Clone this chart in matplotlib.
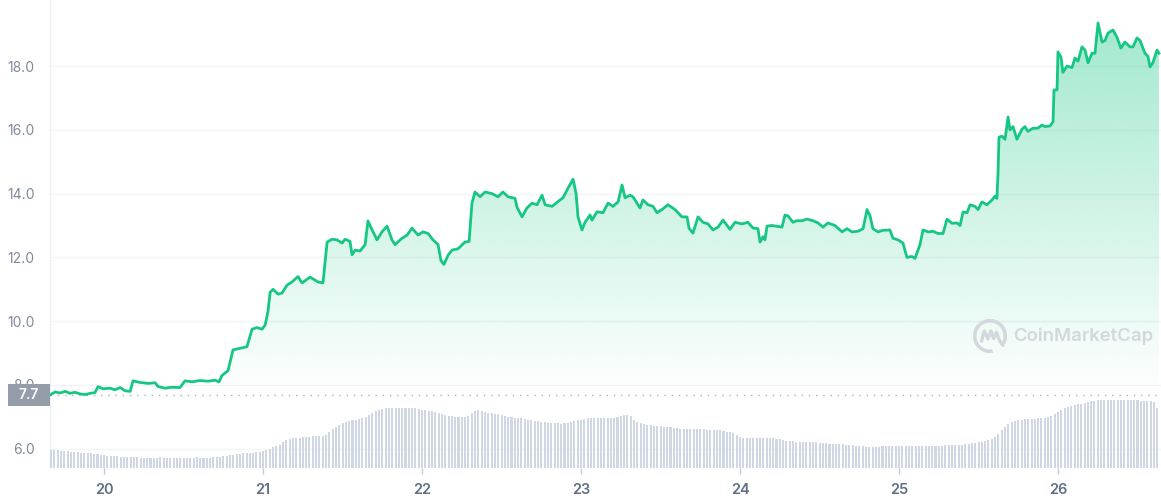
import numpy as np
import matplotlib
matplotlib.use('Agg')
import matplotlib.pyplot as plt
from matplotlib.patches import Rectangle, Arc
from matplotlib.transforms import blended_transform_factory
from matplotlib.colors import to_rgb

# ---------------- data ----------------
times = [
19.660, 19.692, 19.723, 19.755, 19.786, 19.818, 19.849, 19.881, 19.912, 19.943,
19.962, 19.994, 20.038, 20.069, 20.101, 20.132, 20.164, 20.182, 20.226, 20.277,
20.321, 20.340, 20.384, 20.428, 20.478, 20.509, 20.553, 20.604, 20.654, 20.698,
20.723, 20.742, 20.780, 20.811, 20.855, 20.899, 20.931, 20.962, 20.994, 21.013,
21.031, 21.044, 21.063, 21.094, 21.119, 21.151, 21.182, 21.220, 21.245, 21.296,
21.346, 21.377, 21.403, 21.434, 21.465, 21.497, 21.516, 21.547, 21.560, 21.579,
21.610, 21.642, 21.660, 21.686, 21.717, 21.748, 21.780, 21.811, 21.830, 21.874,
21.906, 21.937, 21.975, 22.006, 22.038, 22.069, 22.101, 22.119, 22.138, 22.164,
22.189, 22.226, 22.270, 22.296, 22.314, 22.333, 22.365, 22.396, 22.440, 22.478,
22.509, 22.541, 22.585, 22.597, 22.629, 22.660, 22.692, 22.723, 22.755, 22.774,
22.818, 22.855, 22.887, 22.918, 22.950, 22.969, 22.981, 23.006, 23.025, 23.057,
23.069, 23.101, 23.138, 23.170, 23.201, 23.233, 23.258, 23.277, 23.308, 23.327,
23.371, 23.390, 23.421, 23.453, 23.478, 23.509, 23.547, 23.591, 23.635, 23.667,
23.679, 23.704, 23.736, 23.767, 23.799, 23.830, 23.862, 23.893, 23.937, 23.969,
24.013, 24.050, 24.082, 24.113, 24.126, 24.145, 24.157, 24.170, 24.201, 24.239,
24.264, 24.283, 24.302, 24.333, 24.358, 24.390, 24.421, 24.459, 24.491, 24.522,
24.553, 24.597, 24.642, 24.673, 24.704, 24.742, 24.774, 24.799, 24.818, 24.836,
24.868, 24.899, 24.943, 24.962, 24.994, 25.025, 25.050, 25.082, 25.101, 25.132,
25.151, 25.182, 25.214, 25.245, 25.277, 25.302, 25.333, 25.365, 25.384, 25.403,
25.428, 25.447, 25.478, 25.497, 25.522, 25.553, 25.585, 25.604, 25.616, 25.623,
25.629, 25.648, 25.667, 25.686, 25.698, 25.717, 25.742, 25.774, 25.792, 25.811,
25.843, 25.874, 25.899, 25.918, 25.950, 25.969, 25.975, 25.994, 26.000, 26.019,
26.031, 26.057, 26.088, 26.107, 26.126, 26.151, 26.170, 26.189, 26.214, 26.233,
26.252, 26.277, 26.296, 26.314, 26.346, 26.371, 26.396, 26.421, 26.453, 26.472,
26.497, 26.516, 26.547, 26.566, 26.579, 26.597, 26.623, 26.635,
]

prices = [
7.69, 7.78, 7.75, 7.80, 7.74, 7.77, 7.72, 7.70, 7.74, 7.76,
7.95, 7.88, 7.90, 7.85, 7.92, 7.82, 7.80, 8.13, 8.08, 8.05,
8.07, 7.95, 7.90, 7.93, 7.92, 8.13, 8.10, 8.14, 8.12, 8.15,
8.10, 8.30, 8.45, 9.10, 9.15, 9.20, 9.75, 9.80, 9.75, 9.88,
10.30, 10.90, 11.00, 10.85, 10.88, 11.13, 11.23, 11.40, 11.20, 11.38,
11.23, 11.20, 12.48, 12.57, 12.55, 12.45, 12.57, 12.50, 12.08, 12.23,
12.20, 12.40, 13.14, 12.86, 12.55, 12.80, 12.98, 12.55, 12.40, 12.60,
12.70, 12.92, 12.70, 12.80, 12.75, 12.55, 12.40, 11.90, 11.78, 12.07,
12.23, 12.27, 12.48, 12.50, 13.70, 14.05, 13.90, 14.05, 14.00, 13.90,
14.05, 13.90, 13.85, 13.58, 13.27, 13.55, 13.70, 13.65, 13.95, 13.65,
13.60, 13.75, 13.87, 14.17, 14.45, 14.00, 13.27, 12.86, 13.10, 13.33,
13.17, 13.43, 13.40, 13.70, 13.60, 13.74, 14.27, 13.87, 13.95, 13.90,
13.55, 13.80, 13.65, 13.60, 13.40, 13.50, 13.65, 13.50, 13.27, 13.27,
12.92, 12.76, 13.27, 13.10, 13.05, 12.86, 12.95, 13.17, 12.88, 13.10,
13.05, 13.10, 12.92, 12.90, 12.48, 12.65, 12.55, 12.98, 13.00, 12.97,
12.95, 13.33, 13.30, 13.10, 13.15, 13.15, 13.20, 13.15, 13.08, 12.95,
13.08, 13.00, 12.80, 12.90, 12.80, 12.82, 12.90, 13.50, 13.30, 12.90,
12.80, 12.85, 12.86, 12.60, 12.55, 12.45, 12.00, 12.03, 11.97, 12.40,
12.86, 12.80, 12.82, 12.75, 12.75, 13.20, 13.07, 13.08, 13.00, 13.42,
13.40, 13.65, 13.60, 13.50, 13.74, 13.65, 13.80, 13.92, 13.85, 14.65,
15.77, 15.80, 15.70, 16.40, 16.00, 16.10, 15.70, 16.02, 16.10, 15.95,
16.05, 16.05, 16.15, 16.10, 16.12, 16.25, 17.25, 17.25, 18.44, 18.28,
17.80, 18.00, 17.95, 18.25, 18.15, 18.60, 18.50, 18.10, 18.40, 18.40,
19.35, 18.75, 18.80, 19.03, 19.13, 18.90, 18.56, 18.75, 18.60, 18.60,
18.88, 18.80, 18.40, 18.30, 17.97, 18.10, 18.50, 18.40,
]

# volume (millions, 30-minute bars)
volume = [
18, 18, 18, 17, 17, 17, 16, 16,
16, 15, 15, 15, 15, 14, 14, 13,
13, 12, 12, 12, 12, 11, 11, 11, 11,
11, 11, 10, 10, 10, 10, 10, 10, 11, 10, 10, 10, 10, 10, 10, 10, 10, 10, 10, 11, 10, 10, 10, 10, 11, 11,
11, 12, 12, 13, 13, 14, 14,
15, 15, 15, 15, 16, 16,
17, 18, 19,
21, 22, 23,
26, 28, 29, 30, 30,
30, 31, 31, 31, 32, 32, 32, 32, 33,
36, 39, 41, 43, 45,
46, 47, 48, 48, 49, 50, 51,
53, 55, 57, 58,
59, 60, 60, 60, 60, 60, 60, 60, 60, 60, 60, 59,
58, 58, 57, 57, 56, 55,
54, 53, 52, 52, 51, 51, 51, 51, 52,
55, 57, 58, 57, 56,
55, 55, 54, 54, 53, 52,
51, 51, 50, 50, 50, 49, 48, 48, 47, 47, 46, 46, 45,
45, 45, 45, 44, 45, 45, 46, 47,
48, 48, 49, 50, 50, 50, 50, 50, 50, 50, 50, 50,
51, 52, 53, 53,
52, 48, 46, 45,
44, 43, 43, 42, 42, 42, 41, 41, 41, 40, 40, 39, 39, 39, 39, 39, 39,
39, 39, 38, 38, 38, 38, 38, 37, 36, 36,
35, 33, 31, 30, 30,
30, 30, 30, 30, 30, 30, 30, 30, 29, 29,
28, 27, 27, 27, 26, 26, 26, 26, 26, 26, 26,
25, 25, 25, 24, 24, 24, 24, 24, 23, 23, 23, 22, 22, 22,
21, 21, 21, 21, 21,
22, 22, 22, 22, 22, 22, 22, 22, 22, 22, 22, 22, 22, 22, 22, 22, 22, 22, 22, 23, 23, 23, 23, 23, 23,
24, 24, 25, 25, 26, 26, 27, 28, 29, 31,
34, 38, 41, 44, 46,
47, 48, 48, 49, 49, 49, 49, 50, 50, 50, 51,
52, 54, 56, 58,
60, 61, 62, 63, 64, 64, 65,
66, 67, 67, 68, 68, 68, 68, 68, 68, 68, 68, 68, 68, 68, 68, 68, 67, 67, 67, 67,
66, 60,
]
vol_start = 19.667
vol_step = 1.0 / 48.0

day_ticks = [20, 21, 22, 23, 24, 25, 26]
day_labels = ['20', '21', '22', '23', '24', '25', '26']
price_ticks = [6, 8, 10, 12, 14, 16, 18]
price_labels = ['6.0', '8.0', '10.0', '12.0', '14.0', '16.0', '18.0']
ref_price = 7.7
ref_label = '7.7'

GREEN = '#16c784'
XMIN, XMAX = 19.660, 26.648
YMIN, YMAX = 5.398, 20.069

plt.rcParams['font.family'] = ['Inter', 'DejaVu Sans']

W, H = 1161, 500
fig = plt.figure(figsize=(W / 100, H / 100), dpi=100)
fig.patch.set_facecolor('white')

rect = [50 / W, 32 / H, 1111 / W, 468 / H]
ax = fig.add_axes(rect)
ax.set_facecolor('none')

# grid
for yv in price_ticks:
    ax.axhline(yv, color='#f2f4f7', lw=1.0, zorder=0)

# gradient fill under price line
poly = ax.fill_between(times, prices, ref_price, color='none', lw=0)
path = poly.get_paths()[0]
rgb = to_rgb(GREEN)
grad = np.zeros((256, 1, 4))
grad[:, 0, 0] = rgb[0]
grad[:, 0, 1] = rgb[1]
grad[:, 0, 2] = rgb[2]
grad[:, 0, 3] = np.linspace(0.42, 0.0, 256)
im = ax.imshow(grad, aspect='auto', extent=[XMIN, XMAX, ref_price, YMAX],
               origin='upper', zorder=1, interpolation='bilinear')
im.set_clip_path(path, ax.transData)

# price line
ax.plot(times, prices, color=GREEN, lw=2.0, zorder=4, solid_joinstyle='round')

# reference dotted line
ax.axhline(ref_price, color='#a9b1be', lw=1.0, ls=(0, (1, 4.2)), zorder=3)

ax.set_xlim(XMIN, XMAX)
ax.set_ylim(YMIN, YMAX)

for s in ['top', 'right', 'bottom']:
    ax.spines[s].set_visible(False)
ax.spines['left'].set_color('#eef0f3')
ax.spines['left'].set_linewidth(1.0)

ax.set_yticks(price_ticks, price_labels)
ax.tick_params(axis='y', length=0, pad=11, labelsize=10, labelcolor='#808a9d')
ax.set_xticks(day_ticks, day_labels)
ax.tick_params(axis='x', length=4, width=1, color='#c4cad3', pad=7,
               labelsize=10.5, labelcolor='#616e85')
for lbl in ax.get_xticklabels():
    lbl.set_fontweight('semibold')

# reference price label box (covers part of the 8.0 label, as in the original)
bt = blended_transform_factory(ax.transAxes, ax.transData)
box_h = 22 / (468 / (YMAX - YMIN))
ax.add_patch(Rectangle((-42 / 1111, ref_price - box_h / 2), 42 / 1111, box_h,
                       transform=bt, facecolor='#959dab', edgecolor='none',
                       clip_on=False, zorder=20))
ax.text(-21 / 1111, ref_price, ref_label, transform=bt, ha='center', va='center',
        color='white', fontsize=10, fontweight='semibold', zorder=21, clip_on=False)

# volume bars
ax2 = fig.add_axes([50 / W, 32 / H, 1111 / W, 100 / H])
ax2.set_zorder(ax.get_zorder() + 1)
ax2.set_facecolor('none')
bar_times = vol_start + np.arange(len(volume)) * vol_step
ax2.bar(bar_times, volume, width=vol_step * 0.62, color='#cfd6e4', lw=0)
ax2.set_xlim(XMIN, XMAX)
ax2.set_ylim(0, 100)
ax2.axis('off')

# watermark
WM = '#d3d7de'
fig.text(1013 / W, 1 - 336 / H, 'CoinMarketCap', ha='left', va='center',
         fontsize=13.4, color=WM, fontweight='semibold')
lax = fig.add_axes([(990 - 17) / W, (H - 336 - 17) / H, 34 / W, 34 / H])
lax.set_xlim(-1, 1)
lax.set_ylim(-1, 1)
lax.axis('off')
lax.add_patch(Arc((0, 0), 1.8, 1.8, theta1=-30, theta2=280, color=WM, lw=2.6))
lax.plot([-0.5, -0.33, -0.12, 0.05, 0.22, 0.38, 0.55, 0.75],
         [-0.30, 0.30, -0.18, 0.30, -0.15, 0.22, -0.25, -0.55],
         color=WM, lw=2.4, solid_capstyle='round', solid_joinstyle='round')

fig.savefig('out.png', dpi=100, facecolor='white')
